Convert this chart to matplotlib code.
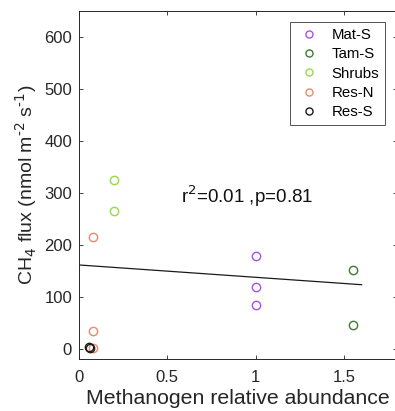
import matplotlib
matplotlib.use("Agg")
from matplotlib import pyplot as plt

plt.rcParams['font.family'] = ['Liberation Sans', 'DejaVu Sans']

# data
groups = ['Mat-S', 'Tam-S', 'Shrubs', 'Res-N', 'Res-S']
colors = ['#AE4CF0', '#3F7A33', '#98DA45', '#F2876A', '#1A1A1A']
xs = [[1.0, 1.0, 1.0],
      [1.55, 1.55],
      [0.2, 0.2],
      [0.08, 0.08, 0.08],
      [0.055, 0.06]]
ys = [[178, 119, 84],
      [152, 46],
      [325, 264],
      [214, 33, 1],
      [3, 1]]

fit_x = [0, 1.6]
fit_y = [161, 123]
stat_text = 'r$^2$=0.01 ,p=0.81'

fig = plt.figure(figsize=(3.95, 4.11), dpi=100)
ax = fig.add_axes([0.2, 0.1265, 0.805, 0.847])

for g, c, x, y in zip(groups, colors, xs, ys):
    ax.plot(x, y, 'o', mfc='none', mec=c, mew=1.0, ms=6, label=g)
ax.plot(fit_x, fit_y, '-', color='#1A1A1A', lw=0.9)

ax.text(0.575, 294, stat_text, fontsize=13.5, va='center', ha='left', color='#111111')

ax.set_xlim(0, 1.8)
ax.set_ylim(-20, 650)
ax.set_xticks([0, 0.5, 1, 1.5])
ax.set_xticklabels(['0', '0.5', '1', '1.5'])
ax.set_yticks(range(0, 700, 100))
ax.tick_params(direction='in', length=3, width=0.6, labelsize=12,
               colors='#262626', top=True, right=True)
ax.tick_params(axis='x', pad=8)
ax.tick_params(axis='y', pad=5)
for s in ax.spines.values():
    s.set_color('#262626')
    s.set_linewidth(0.7)

ax.set_xlabel('Methanogen relative abundance', fontsize=15.3, color='#262626', labelpad=3)
ax.set_ylabel(r'CH$_4$ flux (nmol m$^{\text{-2}}$ s$^{\text{-1}}$)', fontsize=14,
              color='#262626', labelpad=4)

leg = ax.legend(loc='upper left', bbox_to_anchor=(0.663, 0.968), fontsize=10.8,
                frameon=True, fancybox=False, handletextpad=0.6, handlelength=1.8,
                borderpad=0.4, labelspacing=0.35, borderaxespad=0, markerscale=0.85)
leg.get_frame().set_edgecolor('#262626')
leg.get_frame().set_linewidth(0.7)

fig.savefig('out.png', dpi=100)
